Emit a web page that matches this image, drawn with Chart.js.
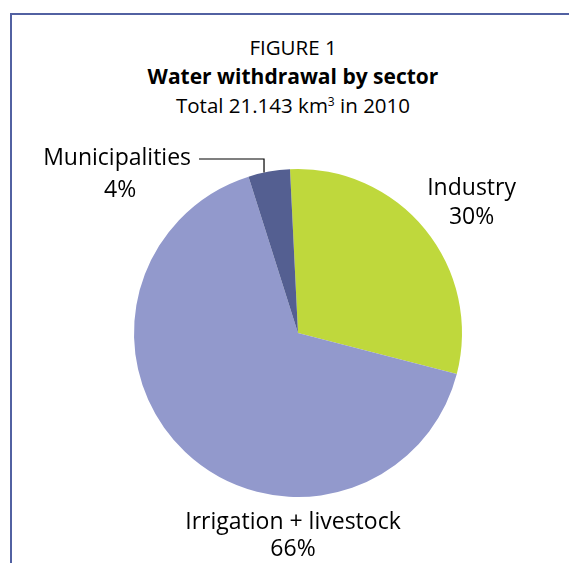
<!DOCTYPE html>
<html>
<head>
<meta charset="utf-8">
<script src="https://cdn.jsdelivr.net/npm/chart.js@4.4.1/dist/chart.umd.min.js"></script>
<style>
  html, body { margin: 0; padding: 0; background: #fff; width: 569px; height: 563px; overflow: hidden; }
  #wrap { position: relative; width: 569px; height: 563px; }
  #frame { position: absolute; left: 10px; top: 13px; right: -5px; bottom: -5px;
           border-left: 2px solid #5261A2; border-top: 2px solid #5261A2; }
  #titles { position: absolute; left: 0; top: 33px; width: 586px; text-align: center;
            font-family: "Open Sans", sans-serif; color: #000; }
  #titles div { line-height: 29px; height: 29px; }
  .t1 { font-size: 20.5px; }
  .t2 { font-size: 21px; font-weight: bold; }
  .t3 { font-size: 20.5px; }
  sup { font-size: 12px; line-height: 0; vertical-align: 7px; }
  canvas { position: absolute; left: 0; top: 0; }
</style>
</head>
<body>
<div id="wrap">
  <div id="frame"></div>
  <div id="titles">
    <div class="t1">FIGURE 1</div>
    <div class="t2">Water withdrawal by sector</div>
    <div class="t3">Total 21.143 km<sup>3</sup> in 2010</div>
  </div>
  <canvas id="c" width="569" height="563"></canvas>
</div>
<script>
const categories = ['Industry', 'Irrigation + livestock', 'Municipalities'];
const shares = [29.8, 66.1, 4.1];
const sliceColors = ['#BFD83C', '#9299CC', '#545F91'];

const labelFont = '23px "Open Sans", sans-serif';

const labelPlugin = {
  id: 'sliceLabels',
  afterDatasetsDraw(chart) {
    const ctx = chart.ctx;
    const meta = chart.getDatasetMeta(0);
    const arcs = meta.data;
    ctx.save();
    ctx.font = labelFont;
    ctx.fillStyle = '#000';
    ctx.textBaseline = 'middle';
    arcs.forEach((arc, i) => {
      const p = arc.getProps(['x', 'y', 'startAngle', 'endAngle', 'outerRadius'], true);
      const mid = (p.startAngle + p.endAngle) / 2;
      const pct = Math.round(shares[i]) + '%';
      const name = categories[i];
      if (i === 0) {
        const d = p.outerRadius + 56;
        const cx = p.x + d * Math.cos(mid) + 3;
        const cy = p.y + d * Math.sin(mid) + 8;
        ctx.textAlign = 'center';
        ctx.fillText(name, cx, cy - 14);
        ctx.fillText(pct, cx, cy + 15);
      } else if (i === 1) {
        const cx = p.x - 5;
        const cy = p.y + p.outerRadius;
        ctx.textAlign = 'center';
        ctx.fillText(name, cx, cy + 25);
        ctx.fillText(pct, cx, cy + 52);
      } else {
        const ex = p.x + p.outerRadius * Math.cos(mid) - 5;
        const dx = ex - p.x;
        const ey = p.y - Math.sqrt(p.outerRadius * p.outerRadius - dx * dx);
        const ly = p.y - p.outerRadius - 10;
        const hx = ex - 65;
        ctx.strokeStyle = '#000';
        ctx.lineWidth = 1.2;
        ctx.beginPath();
        ctx.moveTo(ex, ey);
        ctx.lineTo(ex, ly);
        ctx.lineTo(hx, ly);
        ctx.stroke();
        const w = ctx.measureText(name).width;
        const right = hx - 8;
        ctx.textAlign = 'right';
        ctx.fillText(name, right, ly - 1);
        ctx.textAlign = 'center';
        ctx.fillText(pct, right - w / 2 + 3, ly + 31);
      }
    });
    ctx.restore();
  }
};

new Chart(document.getElementById('c'), {
  type: 'pie',
  data: {
    labels: categories,
    datasets: [{
      data: shares,
      backgroundColor: sliceColors,
      borderWidth: 0
    }]
  },
  options: {
    responsive: false,
    animation: false,
    rotation: -2.8,
    layout: { padding: { left: 134, right: 107, top: 169, bottom: 66 } },
    plugins: {
      legend: { display: false },
      tooltip: { enabled: false },
      title: { display: false }
    }
  },
  plugins: [labelPlugin]
});
</script>
</body>
</html>
